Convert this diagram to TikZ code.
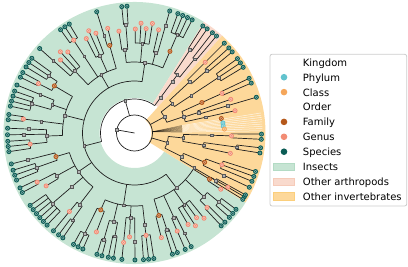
\documentclass[tikz,border=0pt]{standalone}
\usepackage{fontspec}
\setmainfont{DejaVu Sans}
\pgfdeclarelayer{fg}
\pgfsetlayers{main,fg}
\definecolor{cins}{HTML}{C6E4D3}
\definecolor{cinsE}{HTML}{B3DBC4}
\definecolor{cart}{HTML}{F9DACD}
\definecolor{cartE}{HTML}{F6CBB9}
\definecolor{cinv}{HTML}{FDD89A}
\definecolor{cinvE}{HTML}{FBCF7C}
\definecolor{cphy}{HTML}{62C3CE}
\definecolor{ccla}{HTML}{F5A65A}
\definecolor{cfam}{HTML}{B5581A}
\definecolor{cgen}{HTML}{F28C74}
\definecolor{cspe}{HTML}{0B5C55}
\definecolor{cedge}{HTML}{1F1F1F}
\tikzset{
  br/.style={draw=cedge, line width=0.7pt},
  sqmark/.style={fill=gray!60, draw=black!65, line width=0.3pt},
  legtext/.style={anchor=base west, inner sep=0pt, font=\fontsize{10}{12}\selectfont},
}
\newcommand\msq[1]{\begin{pgfonlayer}{fg}\filldraw[sqmark] (#1) ++(-1.4,-1.4) rectangle ++(2.8,2.8);\end{pgfonlayer}}
\newcommand\mdot[2]{\begin{pgfonlayer}{fg}\fill[#1] (#2) circle (2.5);\draw[white, opacity=0.55, line width=0.35pt] (#2) circle (1.3);\end{pgfonlayer}}
\newcount\gcnt \newcount\fcnt \newcount\ocnt
\def\lsp{2.35}\def\ggap{0.6}\def\fgap{0.9}\def\ogap{1.8}
% #1 data, #2 start angle, #3 clade radius, #4 order r, #5 family r, #6 genus r
\newcommand\drawclade[6]{%
 \xdef\cur{#2}%
 \xdef\ofst{}%
 \foreach \ord in #1 {%
   \global\advance\ocnt by 1
   \pgfmathsetmacro\rO{#4+mod(\the\ocnt*5,9)-4}%
   \xdef\ffst{}%
   \foreach \fml in \ord {%
     \global\advance\fcnt by 1
     \pgfmathsetmacro\rF{#5+mod(\the\fcnt*7,13)-6}%
     \xdef\gfst{}%
     \foreach \kk in \fml {%
       \global\advance\gcnt by 1
       \pgfmathsetmacro\rG{#6+mod(\the\gcnt*5,11)-5}%
       \xdef\gs{\cur}%
       \ifnum\kk=0\relax
         \xdef\gm{\cur}%
         \pgfmathsetmacro\tmpA{\cur+\lsp}\xdef\cur{\tmpA}%
         \mdot{cgen}{\gm:\rG}%
       \else
         \foreach \ii in {1,...,\kk} {%
           \draw[br] (\cur:\rG) -- (\cur:127);%
           \mdot{cspe}{\cur:127}%
           \pgfmathsetmacro\tmpA{\cur+\lsp}\xdef\cur{\tmpA}%
         }%
         \pgfmathsetmacro\gEnd{\cur-\lsp}%
         \pgfmathsetmacro\tmpA{(\gs+\gEnd)/2}\xdef\gm{\tmpA}%
         \ifnum\kk>1\relax \draw[br] (\gs:\rG) arc[start angle=\gs,end angle=\gEnd,radius=\rG];\fi
         \pgfmathtruncatemacro\sel{mod(\the\gcnt,3)}%
         \ifnum\sel=0\relax \mdot{cgen}{\gm:\rG}\else \msq{\gm:\rG}\fi
       \fi
       \draw[br] (\gm:\rF) -- (\gm:\rG);%
       \ifx\gfst\empty\xdef\gfst{\gm}\fi
       \xdef\glst{\gm}%
       \pgfmathsetmacro\tmpA{\cur+\ggap}\xdef\cur{\tmpA}%
     }%
     \draw[br] (\gfst:\rF) arc[start angle=\gfst,end angle=\glst,radius=\rF];%
     \pgfmathsetmacro\tmpA{(\gfst+\glst)/2}\xdef\fm{\tmpA}%
     \draw[br] (\fm:\rO) -- (\fm:\rF);%
     \pgfmathtruncatemacro\sel{mod(\the\fcnt,4)}%
     \ifnum\sel=1\relax \mdot{cfam}{\fm:\rF}\else \msq{\fm:\rF}\fi
     \ifx\ffst\empty\xdef\ffst{\fm}\fi
     \xdef\flst{\fm}%
     \pgfmathsetmacro\tmpA{\cur+\fgap}\xdef\cur{\tmpA}%
   }%
   \draw[br] (\ffst:\rO) arc[start angle=\ffst,end angle=\flst,radius=\rO];%
   \pgfmathsetmacro\tmpA{(\ffst+\flst)/2}\xdef\om{\tmpA}%
   \draw[br] (\om:#3) -- (\om:\rO);%
   \msq{\om:\rO}%
   \ifx\ofst\empty\xdef\ofst{\om}\fi
   \xdef\olst{\om}%
   \pgfmathsetmacro\tmpA{\cur+\ogap}\xdef\cur{\tmpA}%
 }%
 \draw[br] (\ofst:#3) arc[start angle=\ofst,end angle=\olst,radius=#3];%
 \pgfmathsetmacro\tmpA{(\ofst+\olst)/2}\xdef\clmid{\tmpA}%
 \msq{\clmid:#3}%
}
\def\GreenData{%
{{4},{1,0},{0,0,0,0},{2,0}},%
{{0,1},{0,0,0},{3},{0,0,0,1}},%
{{3,2},{1,4},{2},{1,1,3}},%
{{1,3},{2,0},{6},{1,2}},%
{{3,0},{2,2},{1,0,1},{3}},%
{{0,2},{1,1},{0,0,0,0},{2,3},{0,1}}%
}
\def\PinkData{{{2,2}}}
\def\UpData{{{0},{1,0},{2}},{{3},{2,1}}}
\def\LowData{{{2},{1,3}},{{0,2},{2}}}
\begin{document}
\begin{tikzpicture}[x=1pt,y=1pt]
\useasboundingbox (0,0) rectangle (408,266);
\begin{scope}[shift={(134.5,133)}]
% background wedges
\fill[cins] (58:35) arc[start angle=58,end angle=328,radius=35] -- (328:131) arc[start angle=328,end angle=58,radius=131] -- cycle;
\fill[cart] (48:35) arc[start angle=48,end angle=58,radius=35] -- (58:131) arc[start angle=58,end angle=48,radius=131] -- cycle;
\fill[cinv] (-32:17) arc[start angle=-32,end angle=48,radius=17] -- (48:131) arc[start angle=48,end angle=-32,radius=131] -- cycle;
% fan of overlapping lineages
\foreach \a in {1,2,...,9} {
  \draw[black, opacity=0.4, line width=0.5pt] (4:18) -- (\a:48);
  \draw[white, opacity=0.75, line width=0.5pt] (\a:48) -- (\a:128);
}
% kingdom / root
\draw[br] (0,0) circle (18);
\draw[br] (0,0) -- (170:18);
\msq{170:18}
% clades
\drawclade{\GreenData}{63}{52}{70}{88}{107}
\xdef\greenmid{\clmid}
\drawclade{\PinkData}{49.8}{44}{60}{78}{100}
\xdef\pinkmid{\clmid}
\drawclade{\UpData}{12.5}{34}{52}{72}{98}
\xdef\upmid{\clmid}
\drawclade{\LowData}{-31.5}{34}{52}{72}{98}
\xdef\lowmid{\clmid}
% links
\draw[br] (\greenmid:34) -- (\greenmid:52);
\draw[br] (\pinkmid:34) -- (\pinkmid:44);
\draw[br] (\pinkmid:34) arc[start angle=\pinkmid,end angle=\greenmid,radius=34];
\draw[br] (106:18) -- (106:34);
\msq{106:34}
\draw[br] (\upmid:18) -- (\upmid:34);
\draw[br] (\lowmid:18) -- (\lowmid:34);
% fan markers
\mdot{cfam}{9.5:88}
\mdot{cphy}{6.5:89}
\mdot{cphy}{4.5:89}
\mdot{ccla}{2.5:90}
\end{scope}
% legend
\draw[black!20, fill=white, rounded corners=2pt, line width=0.8pt] (270,60) rectangle (406.7,211.7);
\foreach \t [count=\n] in {Kingdom,Phylum,Class,Order,Family,Genus,Species,Insects,Other arthropods,Other invertebrates} {
  \node[legtext] (lg\n) at (302.7,{203.7-14.9*(\n-1)-3.9}) {\t};
}
\fill[cphy] (284,188.8) circle (3.3);
\fill[ccla] (284,173.9) circle (3.3);
\fill[cfam] (284,144.1) circle (3.3);
\fill[cgen] (284,129.2) circle (3.3);
\fill[cspe] (284,114.3) circle (3.3);
\filldraw[fill=cins, draw=cinsE, line width=0.8pt] (273.5,95.8) rectangle (294,103);
\filldraw[fill=cart, draw=cartE, line width=0.8pt] (273.5,80.9) rectangle (294,88.1);
\filldraw[fill=cinv, draw=cinvE, line width=0.8pt] (273.5,66) rectangle (294,73.2);
\end{tikzpicture}
\end{document}
